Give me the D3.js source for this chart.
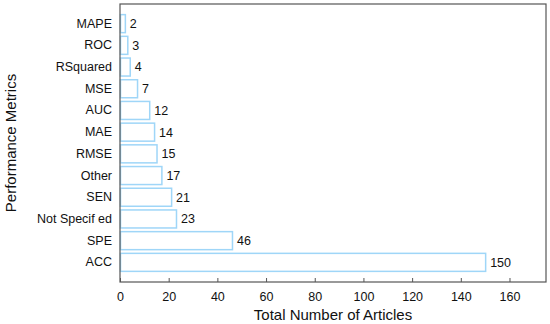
<!DOCTYPE html>
<html><head><meta charset="utf-8">
<script src="https://cdn.jsdelivr.net/npm/d3@7"></script>
<style>body{margin:0;background:#fff}svg{display:block}text{font-family:"Liberation Sans",Arial,sans-serif}</style>
</head><body>
<svg id="c" width="550" height="324"></svg>
<script>
const categories = ["MAPE","ROC","RSquared","MSE","AUC","MAE","RMSE","Other","SEN","Not Specif ed","SPE","ACC"];
const values = [2,3,4,7,12,14,15,17,21,23,46,150];
const xTicks = [0,20,40,60,80,100,120,140,160];

const svg = d3.select("#c");
const L=120, R=546, T=4, B=282;
const x = d3.scaleLinear().domain([0,175]).range([L,R]);
const y = d3.scaleBand().domain(categories).range([T,B]).paddingInner(0.17).paddingOuter(0.49);

svg.selectAll("rect.bar").data(values).join("rect").attr("class","bar")
  .attr("x",x(0)+0.5).attr("y",(d,i)=>y(categories[i]))
  .attr("width",d=>x(d)-x(0)).attr("height",y.bandwidth())
  .attr("fill","#fff").attr("stroke","#9fd6f8").attr("stroke-width",1.5);

svg.selectAll("text.val").data(values).join("text").attr("class","val")
  .attr("x",d=>x(d)+5).attr("y",(d,i)=>y(categories[i])+y.bandwidth()/2)
  .attr("dy","0.35em").attr("font-size",12.5).attr("fill","#111").text(d=>d);

// frame
svg.append("rect").attr("x",L).attr("y",T).attr("width",R-L).attr("height",B-T)
  .attr("fill","none").attr("stroke","#555").attr("stroke-width",1.2);

const xa = svg.append("g").attr("transform",`translate(0,${B})`)
  .call(d3.axisBottom(x).tickValues(xTicks).tickSizeInner(-4).tickSizeOuter(0).tickPadding(10));
xa.select(".domain").remove();
xa.selectAll("line").attr("stroke","#555");
xa.selectAll("text").attr("font-size",12.5).attr("fill","#111").style("font-family","Liberation Sans, Arial, sans-serif");

const ya = svg.append("g").attr("transform",`translate(${L},0)`)
  .call(d3.axisLeft(y).tickSize(0).tickPadding(8));
ya.select(".domain").remove();
ya.selectAll("text").attr("font-size",12.5).attr("fill","#111").style("font-family","Liberation Sans, Arial, sans-serif");

svg.append("text").attr("x",(L+R)/2).attr("y",320).attr("text-anchor","middle")
  .attr("font-size",15).attr("fill","#111").text("Total Number of Articles");
svg.append("text").attr("transform",`translate(16,${(T+B)/2}) rotate(-90)`).attr("text-anchor","middle")
  .attr("font-size",15).attr("fill","#111").text("Performance Metrics");
</script>
</body></html>
